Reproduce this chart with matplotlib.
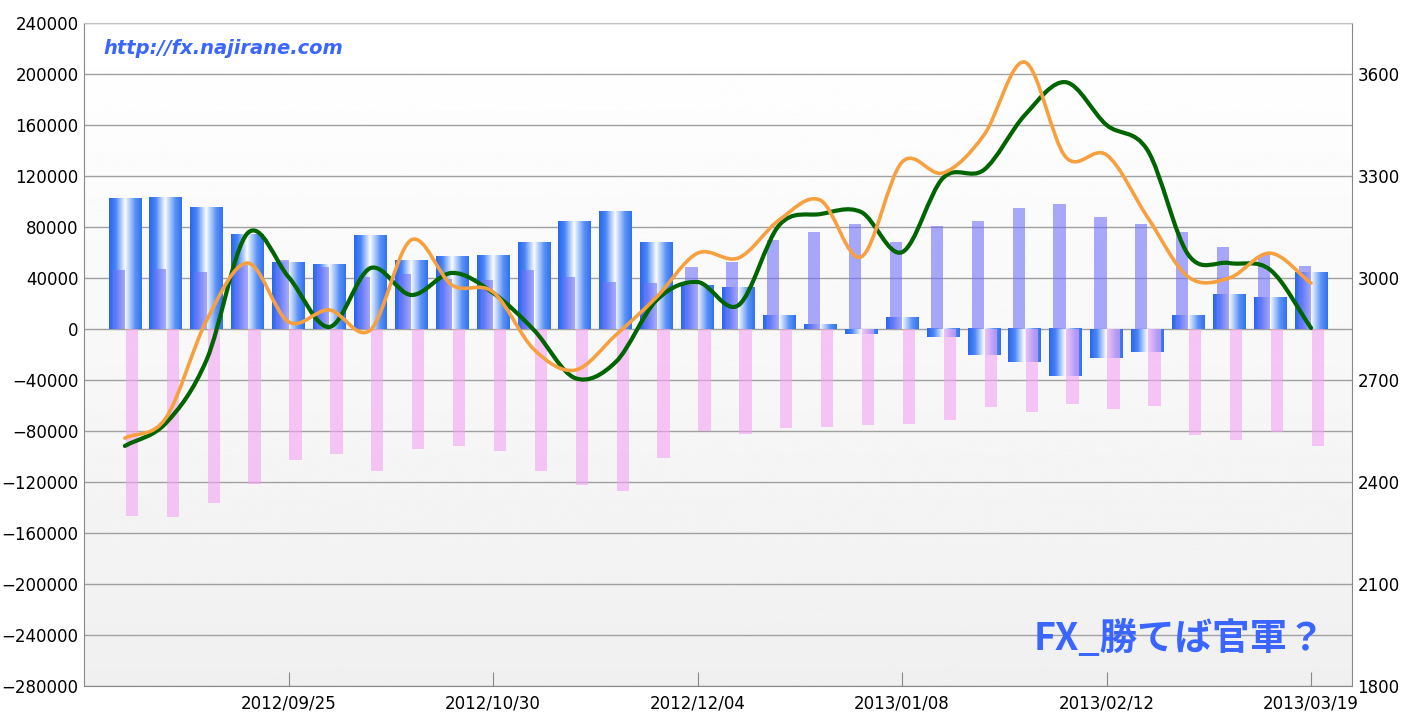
import numpy as np
import pandas as pd
import matplotlib
matplotlib.use("Agg")
import matplotlib.pyplot as plt
from matplotlib.colors import LinearSegmentedColormap
from matplotlib.path import Path
from matplotlib.patches import PathPatch

# weekly data, 2012/08/28 .. 2013/03/19
dates = pd.date_range("2012-08-28", periods=30, freq="7D")
net = [102000, 103500, 95000, 74500, 52000, 50500, 73500, 54000, 56500, 58000,
       67500, 84000, 92000, 67500, 34000, 32500, 10200, 3900, -3900, 9400,
       -6300, -20500, -26000, -37000, -22700, -18000, 10200, 26700, 25000, 44700]
long_pos = [46300, 47000, 44700, 50000, 54000, 49000, 40800, 43000, 39000, 38400,
            46300, 40800, 36900, 36000, 48600, 52500, 69800, 76000, 82300, 68200,
            80800, 84700, 94900, 98000, 87800, 82300, 76000, 64300, 58000, 49400]
short_pos = [-146700, -147500, -136500, -121600, -102700, -98000, -111400, -94000, -91800, -95700,
             -111400, -122300, -127000, -101200, -80000, -82300, -77600, -76900, -75300, -74500,
             -71400, -61200, -65100, -58800, -62700, -60400, -83100, -87000, -80800, -91800]
green_line = [2506, 2573, 2760, 3132, 3003, 2856, 3029, 2950, 3015, 2956,
              2847, 2706, 2753, 2935, 2988, 2920, 3156, 3188, 3194, 3076,
              3294, 3318, 3479, 3576, 3450, 3376, 3068, 3044, 3024, 2853]
orange_line = [2529, 2588, 2876, 3044, 2871, 2906, 2847, 3112, 2979, 2959,
               2790, 2729, 2832, 2944, 3073, 3059, 3171, 3229, 3062, 3341,
               3309, 3420, 3635, 3356, 3362, 3179, 3003, 3000, 3073, 2985]
tick_idx = [4, 9, 14, 19, 24, 29]

x = np.arange(len(dates))

fig = plt.figure(figsize=(14.01, 7.16), dpi=100)
ax = fig.add_axes([84/1401, 30/716, 1268/1401, 663/716])

# soft background
bg = np.linspace(0.94, 1.0, 256).reshape(-1, 1)
ax.imshow(bg, cmap="gray", vmin=0, vmax=1, aspect="auto", extent=[0, 1, 0, 1],
          transform=ax.transAxes, origin="lower", zorder=0)

# blue cylinder bars
cyl = LinearSegmentedColormap.from_list("cyl", [
    (0.0, "#2a66ee"), (0.2, "#4a86f4"), (0.47, "#eef4ff"), (0.5, "#ffffff"),
    (0.53, "#e4eeff"), (0.8, "#5a92f6"), (1.0, "#3272f0")])
grad = np.linspace(0, 1, 64).reshape(1, -1)
bars = ax.bar(x, net, width=0.8, color="none", zorder=2)
for b in bars:
    x0, w, h = b.get_x(), b.get_width(), b.get_height()
    ax.imshow(grad, cmap=cyl, aspect="auto", extent=[x0, x0 + w, 0, h],
              origin="lower", zorder=2)

ax.bar(x - 0.15, long_pos, width=0.3, color="#7171fa", alpha=0.6, zorder=3)
ax.bar(x + 0.17, short_pos, width=0.3, color="#f3a3f3", alpha=0.6, zorder=3)

ax.set_xlim(-1, 30)
ax.set_ylim(-280000, 240000)
ax.set_yticks(np.arange(-280000, 240001, 40000))
ax.yaxis.grid(True, color="#a0a0a0", lw=1)
ax.set_axisbelow(True)
ax.set_xticks(tick_idx)
ax.set_xticklabels([dates[i].strftime("%Y/%m/%d") for i in tick_idx])
ax.tick_params(axis="x", direction="in", length=10, color="#888888", labelsize=12, pad=6)
ax.tick_params(axis="y", length=0, labelsize=12, pad=4)
for s in ax.spines.values():
    s.set_color("#888888")
ax.spines["top"].set_color("#c0c0c0")

# right axis with smoothed lines
ax2 = ax.twinx()
ax2.set_ylim(1800, 1800 + 1950)
ax2.set_yticks(np.arange(1800, 3601, 300))
ax2.tick_params(axis="y", length=0, labelsize=12, pad=4)
for s in ax2.spines.values():
    s.set_visible(False)


def smooth_path(xs, ys):
    xs = np.asarray(xs, float)
    ys = np.asarray(ys, float)
    px = np.concatenate([[2*xs[0]-xs[1]], xs, [2*xs[-1]-xs[-2]]])
    py = np.concatenate([[2*ys[0]-ys[1]], ys, [2*ys[-1]-ys[-2]]])
    verts = [(xs[0], ys[0])]
    codes = [Path.MOVETO]
    for i in range(1, len(px) - 2):
        c1 = (px[i] + (px[i+1]-px[i-1])/6, py[i] + (py[i+1]-py[i-1])/6)
        c2 = (px[i+1] - (px[i+2]-px[i])/6, py[i+1] - (py[i+2]-py[i])/6)
        verts += [c1, c2, (px[i+1], py[i+1])]
        codes += [Path.CURVE4]*3
    return Path(verts, codes)


ax2.add_patch(PathPatch(smooth_path(x, green_line), fill=False, ec="#006400",
                        lw=3.0, capstyle="round", zorder=4))
ax2.add_patch(PathPatch(smooth_path(x, orange_line), fill=False, ec="#f7a040",
                        lw=2.6, capstyle="round", zorder=5))

ax.text(0.015, 0.962, "http://fx.najirane.com", transform=ax.transAxes,
        fontsize=14, fontweight="bold", style="italic", color="#3a66ff",
        va="center", ha="left", zorder=6)
ax.text(0.864, 0.072, "FX_勝てば官軍？", transform=ax.transAxes,
        fontsize=27, fontweight="bold", style="italic", color="#3a66ff",
        family=["Noto Sans CJK JP", "DejaVu Sans"], va="center", ha="center", zorder=6)

fig.savefig("out.png", dpi=100)
